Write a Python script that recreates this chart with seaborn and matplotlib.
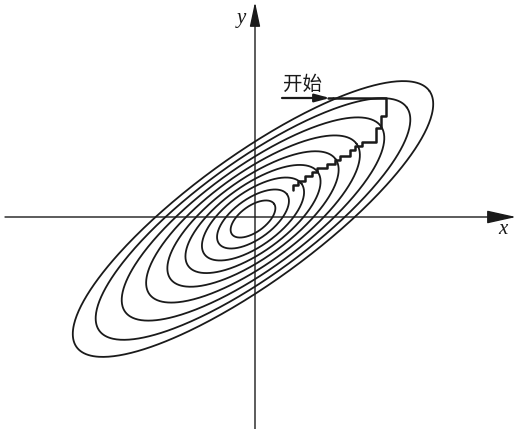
import numpy as np
import pandas as pd
import seaborn as sns
import matplotlib.pyplot as plt

sns.set_theme(style="white")
plt.rcParams['font.family'] = ['Noto Sans CJK SC', 'DejaVu Sans']

# Contour ellipses of the objective (semi-axes, common tilt and centre)
semi_major = [2.18, 1.90, 1.58, 1.28, 1.02, 0.80, 0.60, 0.42, 0.26]
semi_minor = [0.63, 0.57, 0.51, 0.45, 0.39, 0.33, 0.27, 0.20, 0.13]
tilt_deg = 36.0
centre = (-0.02, -0.02)

# Coordinate-descent path (alternating horizontal / vertical moves)
path_x = [0.78, 1.31, 1.31, 1.26, 1.26, 1.21, 1.21, 1.07, 1.07, 1.00, 1.00, 0.95, 0.95,
          0.85, 0.85, 0.80, 0.80, 0.72, 0.72, 0.62, 0.62, 0.57, 0.57, 0.50, 0.50,
          0.43, 0.43, 0.38, 0.38]
path_y = [1.19, 1.19, 1.01, 1.01, 0.89, 0.89, 0.75, 0.75, 0.71, 0.71, 0.67, 0.67, 0.61,
          0.61, 0.57, 0.57, 0.53, 0.53, 0.49, 0.49, 0.45, 0.45, 0.41, 0.41, 0.36,
          0.36, 0.32, 0.32, 0.27]

# "Start" arrow
start_label = "开始"
start_tail = (0.27, 1.19)

ink = "#1a1a1a"

fig = plt.figure(figsize=(5.18, 4.29), dpi=100)
ax = fig.add_axes([0, 0, 1, 1])

# Ellipse outlines
t = np.linspace(0, 2 * np.pi, 400)
th = np.deg2rad(tilt_deg)
rows = []
for k, (a, b) in enumerate(zip(semi_major, semi_minor)):
    u, v = a * np.cos(t), b * np.sin(t)
    xs = centre[0] + u * np.cos(th) - v * np.sin(th)
    ys = centre[1] + u * np.sin(th) + v * np.cos(th)
    rows.append(pd.DataFrame({"x": xs, "y": ys, "level": k}))
contours = pd.concat(rows, ignore_index=True)
sns.lineplot(data=contours, x="x", y="y", units="level", estimator=None, sort=False,
             color=ink, linewidth=1.3, ax=ax, legend=False)

# Descent path
steps = pd.DataFrame({"x": path_x, "y": path_y})
sns.lineplot(data=steps, x="x", y="y", sort=False, estimator=None,
             color=ink, linewidth=1.8, ax=ax, legend=False)

# Start arrow and label
ax.annotate("", xy=(path_x[0] - 0.03, path_y[0]), xytext=start_tail,
            arrowprops=dict(arrowstyle="-|>,head_length=0.45,head_width=0.12",
                            color=ink, lw=1.6, mutation_scale=20, shrinkA=0, shrinkB=0))
ax.plot([path_x[0] - 0.05, path_x[0]], [path_y[0], path_y[0]], color=ink, lw=1.8)
ax.text(0.47, 1.33, start_label, fontsize=14, color=ink, ha="center", va="center")

# Coordinate axes with arrows
ax.annotate("", xy=(2.61, 0.0), xytext=(-2.50, 0.0),
            arrowprops=dict(arrowstyle="-|>,head_length=0.9,head_width=0.2",
                            color=ink, lw=1.0, mutation_scale=20, shrinkA=0, shrinkB=0))
ax.annotate("", xy=(0.0, 2.15), xytext=(0.0, -2.14),
            arrowprops=dict(arrowstyle="-|>,head_length=0.75,head_width=0.16",
                            color=ink, lw=1.0, mutation_scale=20, shrinkA=0, shrinkB=0))
ax.text(2.48, -0.13, "x", fontsize=15, style="italic", family="Liberation Serif",
        color=ink, ha="center", va="center")
ax.text(-0.14, 1.99, "y", fontsize=15, style="italic", family="Liberation Serif",
        color=ink, ha="center", va="center")

ax.set_xlim(-2.55, 2.63)
ax.set_ylim(-2.12, 2.17)
ax.set_axis_off()

fig.savefig("out.png", dpi=100, facecolor="white")
